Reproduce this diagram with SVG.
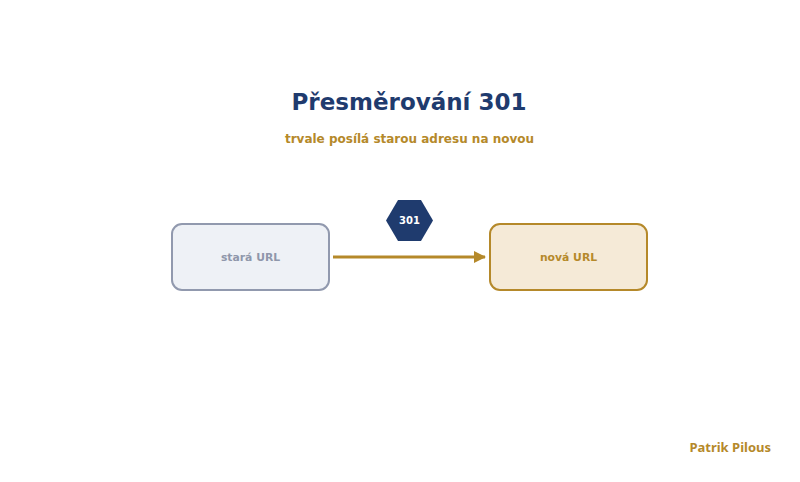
<svg xmlns="http://www.w3.org/2000/svg" width="800" height="482" viewBox="0 0 800 482">
<style>
.t{font-family:"DejaVu Sans",sans-serif;font-weight:bold;text-anchor:middle}
.box{stroke-width:2}
</style>
<defs>
<marker id="ah" markerWidth="12" markerHeight="12" refX="11" refY="6" orient="auto" markerUnits="userSpaceOnUse">
<path d="M0,0 L12,6 L0,12 z" fill="#b5892a"/>
</marker>
</defs>
<rect width="800" height="482" fill="#ffffff"/>
<text class="t" x="409" y="110" font-size="23" fill="#1f3b6e">Přesměrování 301</text>
<text class="t" x="409.5" y="143" font-size="12" fill="#b5892a">trvale posílá starou adresu na novou</text>
<g id="connectors">
<line x1="333" y1="257" x2="485" y2="257" stroke="#b5892a" stroke-width="3" marker-end="url(#ah)"/>
</g>
<g id="old">
<rect class="box" x="172" y="224" width="157" height="66" rx="10" fill="#eef1f6" stroke="#9199ae"/>
<text class="t" x="250.5" y="261" font-size="10.8" fill="#8f97ab">stará URL</text>
</g>
<g id="new">
<rect class="box" x="490" y="224" width="157" height="66" rx="10" fill="#f5ead7" stroke="#b5892a"/>
<text class="t" x="568.5" y="261" font-size="10.8" fill="#b5892a">nová URL</text>
</g>
<g id="badge">
<polygon points="398,200 421,200 433,220.5 421,241 398,241 386,220.5" fill="#1f3b6e"/>
<text class="t" x="409.5" y="224" font-size="10" fill="#ffffff">301</text>
</g>
<text x="771" y="452" font-family="'Noto Sans',sans-serif" font-weight="bold" font-size="13" fill="#b5892a" text-anchor="end">Patrik Pilous</text>
</svg>
